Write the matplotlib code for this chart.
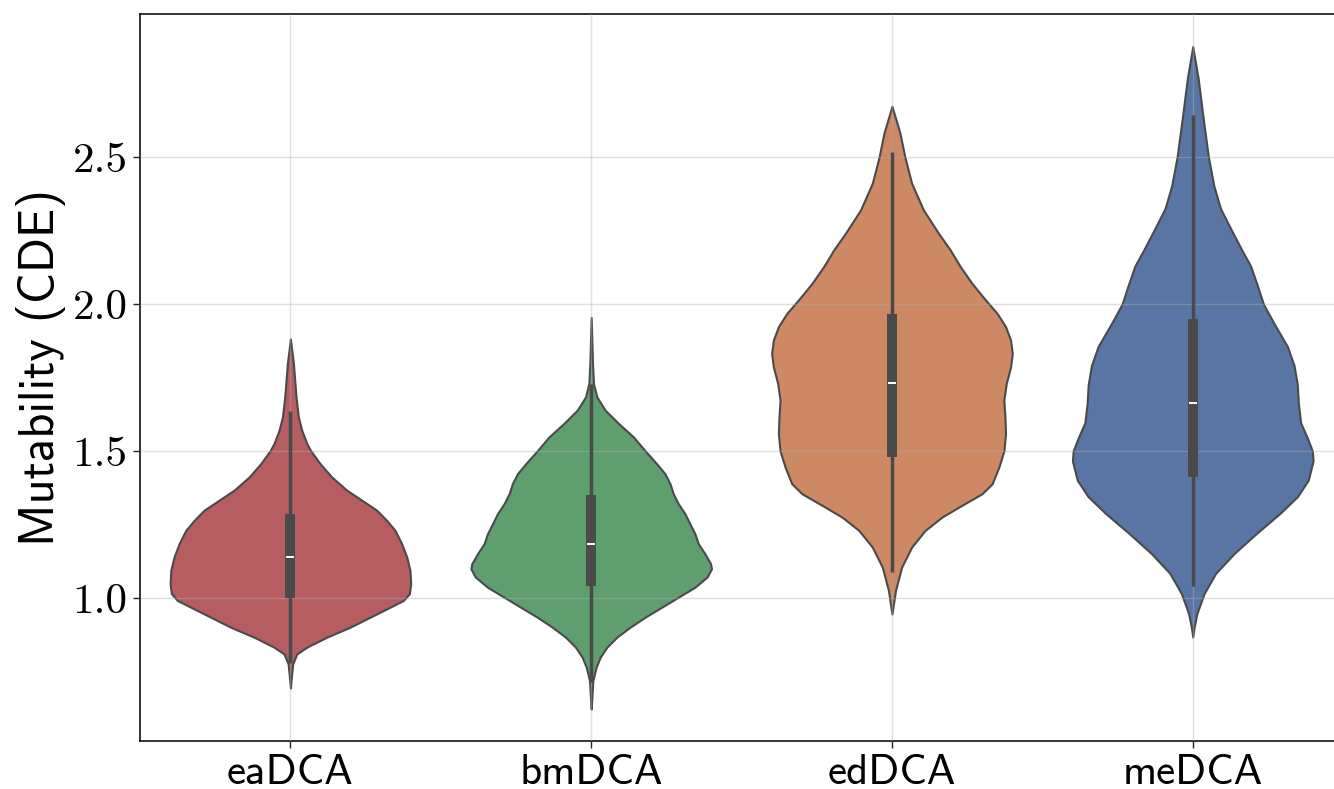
"""
Violin plot of mutability (CDE) for four DCA variants.
Violin outlines are drawn from density profiles read off the original figure.
"""

import numpy as np
import matplotlib
matplotlib.use('Agg')
import matplotlib.pyplot as plt
from matplotlib.ticker import FormatStrFormatter

# Categories and colours (seaborn "deep", desaturated like violinplot does)
categories = ['eaDCA', 'bmDCA', 'edDCA', 'meDCA']
colors = ['#b55d60', '#5f9e6e', '#cc8963', '#5975a4']

# Density profiles: y values and relative half-width (1.0 = widest point)
eadca_y = [1.881, 1.798, 1.684, 1.616, 1.571, 1.526, 1.501, 1.457, 1.412, 1.367,
           1.333, 1.299, 1.264, 1.230, 1.185, 1.140, 1.094, 1.049, 1.015, 0.992,
           0.969, 0.935, 0.901, 0.867, 0.833, 0.810, 0.776, 0.731, 0.694]
eadca_dens = [0.0, 0.025, 0.047, 0.066, 0.094, 0.136, 0.169, 0.247, 0.343, 0.468,
              0.593, 0.717, 0.801, 0.870, 0.925, 0.967, 0.994, 1.0, 0.989, 0.939,
              0.828, 0.662, 0.496, 0.302, 0.136, 0.053, 0.019, 0.008, 0.0]

bmdca_y = [1.954, 1.798, 1.730, 1.684, 1.639, 1.594, 1.548, 1.501, 1.457, 1.423,
           1.389, 1.355, 1.321, 1.287, 1.253, 1.219, 1.185, 1.151, 1.117, 1.100,
           1.072, 1.037, 1.003, 0.969, 0.935, 0.901, 0.867, 0.833, 0.799, 0.765,
           0.720, 0.663, 0.623]
bmdca_dens = [0.0, 0.011, 0.019, 0.047, 0.116, 0.227, 0.351, 0.448, 0.544, 0.613,
              0.655, 0.682, 0.724, 0.779, 0.820, 0.862, 0.890, 0.945, 0.992, 1.0,
              0.964, 0.862, 0.724, 0.586, 0.448, 0.323, 0.213, 0.130, 0.075, 0.041,
              0.014, 0.006, 0.0]

eddca_y = [2.672, 2.582, 2.500, 2.411, 2.320, 2.241, 2.184, 2.127, 2.070, 2.014,
           1.968, 1.923, 1.877, 1.832, 1.786, 1.730, 1.673, 1.616, 1.559, 1.500,
           1.445, 1.389, 1.355, 1.309, 1.275, 1.230, 1.173, 1.105, 1.025, 0.946]
eddca_dens = [0.0, 0.066, 0.107, 0.163, 0.261, 0.386, 0.484, 0.568, 0.665, 0.777,
              0.874, 0.944, 0.986, 1.0, 0.986, 0.950, 0.930, 0.939, 0.944, 0.930,
              0.888, 0.833, 0.749, 0.554, 0.414, 0.275, 0.163, 0.080, 0.029, 0.0]

medca_y = [2.875, 2.767, 2.637, 2.500, 2.402, 2.324, 2.246, 2.181, 2.129, 2.064,
           1.999, 1.934, 1.856, 1.791, 1.726, 1.661, 1.596, 1.544, 1.500, 1.466,
           1.401, 1.345, 1.288, 1.220, 1.152, 1.084, 1.016, 0.948, 0.902, 0.868]
medca_dens = [0.0, 0.045, 0.085, 0.130, 0.175, 0.231, 0.328, 0.411, 0.481, 0.536,
              0.588, 0.675, 0.786, 0.842, 0.869, 0.878, 0.897, 0.953, 0.994, 1.0,
              0.960, 0.870, 0.725, 0.530, 0.345, 0.190, 0.095, 0.035, 0.012, 0.0]

profiles_y = [eadca_y, bmdca_y, eddca_y, medca_y]
profiles_dens = [eadca_dens, bmdca_dens, eddca_dens, medca_dens]

# Box statistics per category
q1 = [1.001, 1.041, 1.478, 1.413]
median = [1.140, 1.183, 1.730, 1.664]
q3 = [1.286, 1.350, 1.967, 1.948]
whisker_low = [0.778, 0.713, 1.089, 1.041]
whisker_high = [1.636, 1.727, 2.518, 2.643]

tick_values = [1.0, 1.5, 2.0, 2.5]

line_color = '#4a4a4a'
violin_width = 0.8

fig = plt.figure(figsize=(13.34, 7.89), dpi=100)
ax = fig.add_axes([0.10495, 0.0608, 0.9019, 0.9215])

for i, cat in enumerate(categories):
    y = np.array(profiles_y[i])
    dens = np.array(profiles_dens[i])
    half = dens / dens.max() * violin_width / 2
    ax.fill_betweenx(y, i - half, i + half, facecolor=colors[i],
                     edgecolor=line_color, linewidth=1.5, zorder=1)
    # whiskers, box and median drawn above the grid
    ax.plot([i, i], [whisker_low[i], whisker_high[i]], color=line_color,
            lw=2.5, solid_capstyle='butt', zorder=3)
    ax.plot([i, i], [q1[i], q3[i]], color=line_color,
            lw=7.2, solid_capstyle='butt', zorder=3)
    ax.plot([i - 0.013, i + 0.013], [median[i], median[i]], color='white',
            lw=1.4, solid_capstyle='butt', zorder=4)

ax.set_xlim(-0.5, 3.5)
ax.set_ylim(0.514, 2.986)
ax.set_xticks(range(len(categories)))
ax.set_xticklabels(categories, fontfamily='cmss10', fontsize=31)
ax.set_yticks(tick_values)
ax.yaxis.set_major_formatter(FormatStrFormatter('%.1f'))
for lab in ax.get_yticklabels():
    lab.set_fontfamily('cmr10')
    lab.set_fontsize(31)
ax.tick_params(axis='both', length=5, width=1.0, color='#222222', pad=4)
ax.set_ylabel('Mutability (CDE)', fontfamily='cmss10', fontsize=35, labelpad=4.5)
ax.yaxis.label.set_y(0.514)

ax.set_axisbelow(False)
ax.grid(True, color='#b0b0b0', alpha=0.4, linewidth=1.0, zorder=2.5)

for side in ['left', 'bottom', 'top', 'right']:
    ax.spines[side].set_linewidth(1.2)
    ax.spines[side].set_color('#111111')

plt.savefig('out.png', dpi=100)
plt.close()
